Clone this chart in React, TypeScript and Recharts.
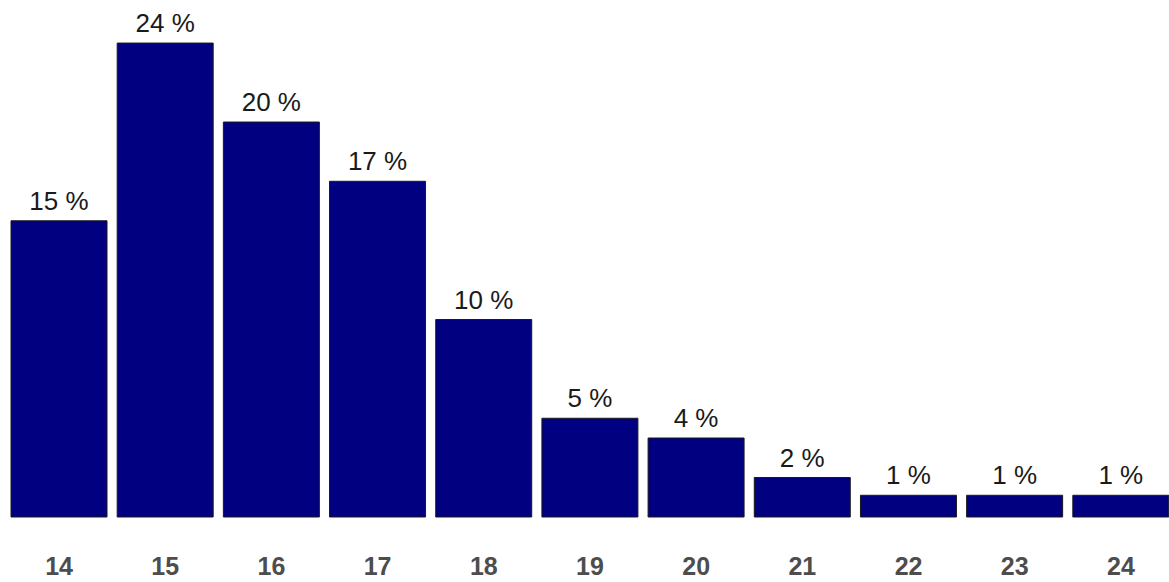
import { Bar, BarChart, LabelList, XAxis, YAxis } from 'recharts'

const ages = ['14', '15', '16', '17', '18', '19', '20', '21', '22', '23', '24']
const shares = [15, 24, 20, 17, 10, 5, 4, 2, 1.1, 1.1, 1.1]

const rows = ages.map((age, i) => ({ age, share: shares[i] }))

export default function App() {
  return (
    <div
      style={{
        position: 'absolute',
        top: 0,
        left: 0,
        width: 1169,
        height: 582,
        overflow: 'hidden',
        background: '#fff',
      }}
    >
      <BarChart
        width={1180}
        height={582}
        data={rows}
        margin={{ top: 0, right: 6, bottom: 0, left: 6 }}
        barSize={96}
      >
        <XAxis
          dataKey="age"
          axisLine={false}
          tickLine={false}
          tickSize={6}
          tickMargin={34}
          height={65}
          interval={0}
          tick={{
            fontSize: 25,
            fontWeight: 'bold',
            fill: '#4d4d4d',
            fontFamily: 'Arial, "Liberation Sans", sans-serif',
          }}
        />
        <YAxis hide domain={[0, 26.18]} />
        <Bar
          dataKey="share"
          fill="#000080"
          stroke="#1a1a1a"
          strokeWidth={1}
          isAnimationActive={false}
        >
          <LabelList
            dataKey="share"
            position="top"
            offset={11}
            formatter={(v: number) => `${Math.round(v)} %`}
            fill="#1a1a1a"
            fontSize={26}
            fontFamily='Arial, "Liberation Sans", sans-serif'
          />
        </Bar>
      </BarChart>
    </div>
  )
}
